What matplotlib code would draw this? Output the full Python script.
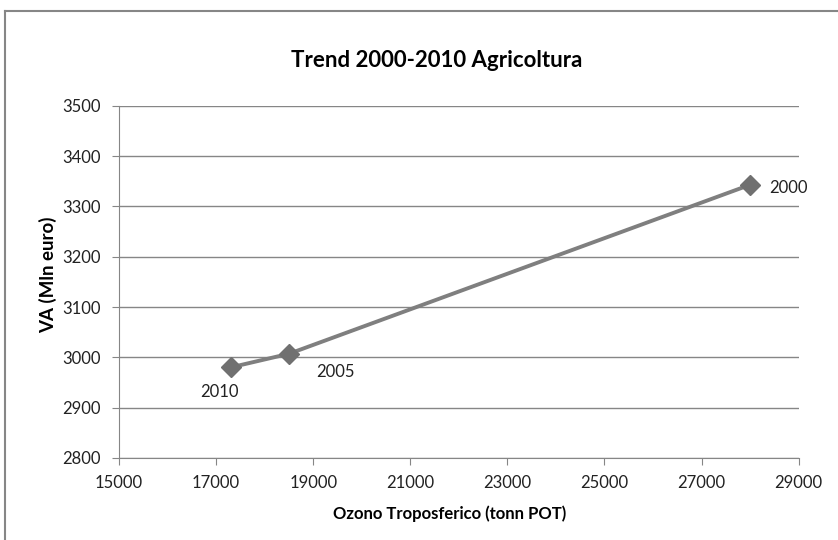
import matplotlib
matplotlib.use('Agg')
import matplotlib.pyplot as plt
from matplotlib.lines import Line2D

# dati
anni = ['2000', '2005', '2010']
ozono = [28000, 18500, 17300]
va = [3343, 3007, 2980]

plt.rcParams['font.family'] = ['Lato', 'DejaVu Sans']

fig = plt.figure(figsize=(8.38, 5.40), dpi=100)
ax = fig.add_axes([0.142, 0.152, 0.811, 0.652])

grigio = '#868686'

ax.plot(ozono, va, color='#7f7f7f', linewidth=2.8, marker='D', markersize=10,
        markerfacecolor='#707070', markeredgecolor='#707070', zorder=3)

# etichette dei punti
offs = {'2000': (14, -2, 'left', 'center'),
        '2005': (20, -13, 'left', 'center'),
        '2010': (-8, -18, 'center', 'center')}
for a, x, y in zip(anni, ozono, va):
    dx, dy, ha, va_ = offs[a]
    ax.annotate(a, (x, y), xytext=(dx, dy), textcoords='offset points',
                ha=ha, va=va_, fontsize=12, color='#222222')

ax.set_xlim(15000, 29000)
ax.set_ylim(2800, 3500)
ax.set_xticks(range(15000, 29001, 2000))
ax.set_yticks(range(2800, 3501, 100))
ax.grid(axis='y', color=grigio, linewidth=1)
ax.set_axisbelow(True)

for s in ['top', 'right']:
    ax.spines[s].set_visible(False)
for s in ['left', 'bottom']:
    ax.spines[s].set_color(grigio)
ax.tick_params(colors=grigio, labelcolor='#222222', labelsize=12, length=5,
               direction='out')
ax.tick_params(axis='x', pad=7)
ax.tick_params(axis='y', pad=8)

ax.set_title('Trend 2000-2010 Agricoltura', fontsize=16, fontweight='bold',
             pad=28, x=0.467)
ax.set_xlabel('Ozono Troposferico (tonn POT)', fontsize=12, fontweight='bold')
ax.set_ylabel('VA (Mln euro)', fontsize=13.5, fontweight='bold')
ax.xaxis.set_label_coords(0.487, -0.135)
ax.yaxis.set_label_coords(-0.091, 0.52)

# cornice esterna del grafico
fig.add_artist(Line2D([5/838, 5/838], [0, 1 - 10.5/540], color=grigio,
                      linewidth=1.5, transform=fig.transFigure))
fig.add_artist(Line2D([5/838, 1], [1 - 10.5/540, 1 - 10.5/540], color=grigio,
                      linewidth=1.5, transform=fig.transFigure))

fig.savefig('out.png', dpi=100)
